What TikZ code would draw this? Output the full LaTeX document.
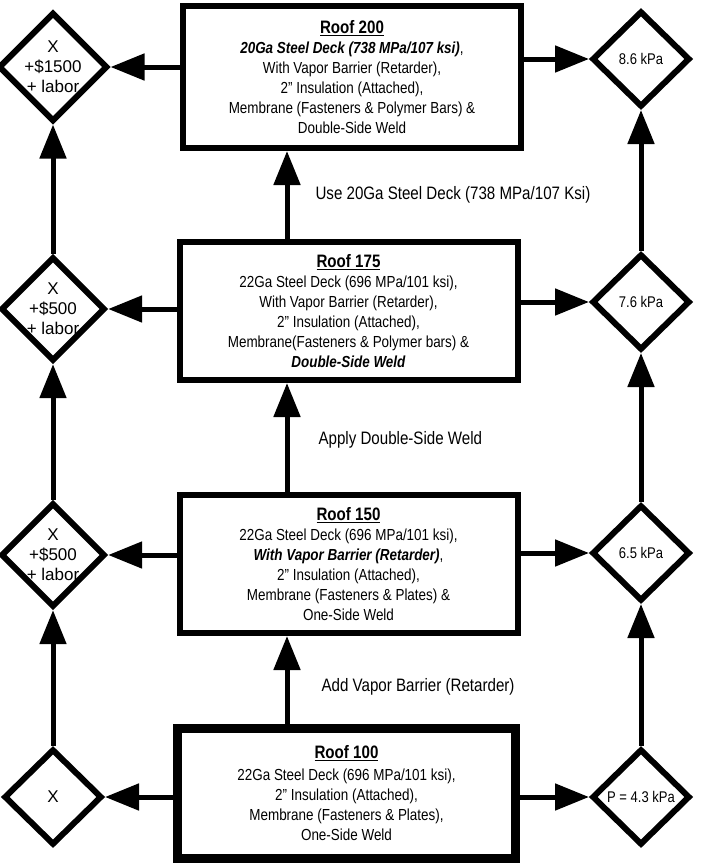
\documentclass[tikz,border=0pt]{standalone}
\usepackage{fontspec}
\setmainfont{Liberation Sans}[FakeStretch=0.84]
\newfontfamily\widefont{Liberation Sans}
\usetikzlibrary{shapes.geometric,arrows.meta}
\begin{document}
\begin{tikzpicture}[x=1pt,y=-1pt,
  roofbox/.style={draw, line width=6pt, minimum width=338pt, minimum height=138pt, inner sep=0pt, align=center, font=\fontsize{16}{20}\selectfont},
  decision/.style={diamond, draw, line width=6pt, minimum width=98pt, minimum height=96pt, inner sep=0pt, align=center, font=\fontsize{15.5}{20}\selectfont},
  costtext/.style={font=\widefont\fontsize{17}{20}\selectfont},
  arr/.style={line width=5pt, -{Triangle[length=34pt,width=26pt]}},
  steplabel/.style={anchor=west, font=\fontsize{18}{20}\selectfont}
]
\useasboundingbox (0,0) rectangle (702,863);
\newcommand{\rtitle}[1]{{\fontsize{18}{22}\selectfont\bfseries\underline{#1}}}

% roof boxes
\node[roofbox, minimum height=142pt] (r200) at (352,77) {\rtitle{Roof 200}\\
  \textbf{\textit{20Ga Steel Deck (738 MPa/107 ksi)}},\\
  With Vapor Barrier (Retarder),\\
  2” Insulation (Attached),\\
  Membrane (Fasteners \& Polymer Bars) \&\\
  Double-Side Weld};
\node[roofbox] (r175) at (348.5,311) {\rtitle{Roof 175}\\
  22Ga Steel Deck (696 MPa/101 ksi),\\
  With Vapor Barrier (Retarder),\\
  2” Insulation (Attached),\\
  Membrane(Fasteners \& Polymer bars) \&\\
  \textbf{\textit{Double-Side Weld}}};
\node[roofbox] (r150) at (348.5,564) {\rtitle{Roof 150}\\
  22Ga Steel Deck (696 MPa/101 ksi),\\
  \textbf{\textit{With Vapor Barrier (Retarder)}},\\
  2” Insulation (Attached),\\
  Membrane (Fasteners \& Plates) \&\\
  One-Side Weld};
\node[roofbox, line width=9pt, minimum height=130pt] (r100) at (346.5,793) {\rtitle{Roof 100}\\[2pt]
  22Ga Steel Deck (696 MPa/101 ksi),\\
  2” Insulation (Attached),\\
  Membrane (Fasteners \& Plates),\\
  One-Side Weld};

% left cost diamonds
\node[decision, costtext] (c200) at (53,67) {X\\+\$1500\\+ labor};
\node[decision, costtext] (c175) at (53,309) {X\\+\$500\\+ labor};
\node[decision, costtext] (c150) at (53,555) {X\\+\$500\\+ labor};
\node[decision, costtext] (c100) at (53,797) {X};

% right pressure diamonds
\node[decision] (p200) at (641,59) {8.6 kPa};
\node[decision] (p175) at (641,302) {7.6 kPa};
\node[decision] (p150) at (641,553) {6.5 kPa};
\node[decision] (p100) at (641,797) {P = 4.3 kPa};

% step labels
\node[steplabel] (s1) at (312,195) {Use 20Ga Steel Deck (738 MPa/107 Ksi)};
\node[steplabel] (s2) at (315,440) {Apply Double-Side Weld};
\node[steplabel] (s3) at (318,687) {Add Vapor Barrier (Retarder)};

\coordinate (vx) at (287,0);

% box to diamonds
\foreach \r/\c/\p in {r200/c200/p200, r175/c175/p175, r150/c150/p150, r100/c100/p100}{
  \draw[arr] (\r.west |- \c) -- (\c.east);
  \draw[arr] (\r.east |- \p) -- (\p.west);
}

% upgrade path
\draw[arr] (vx |- r100.north) -- (vx |- r150.south);
\draw[arr] (vx |- r150.north) -- (vx |- r175.south);
\draw[arr] (vx |- r175.north) -- (vx |- r200.south);

% side columns
\draw[arr] (c100.north) -- (c150.south);
\draw[arr] (c150.north) -- (c175.south);
\draw[arr] (c175.north) -- (c200.south);
\draw[arr] (p100.north) -- (p150.south);
\draw[arr] (p150.north) -- (p175.south);
\draw[arr] (p175.north) -- (p200.south);
\end{tikzpicture}
\end{document}
